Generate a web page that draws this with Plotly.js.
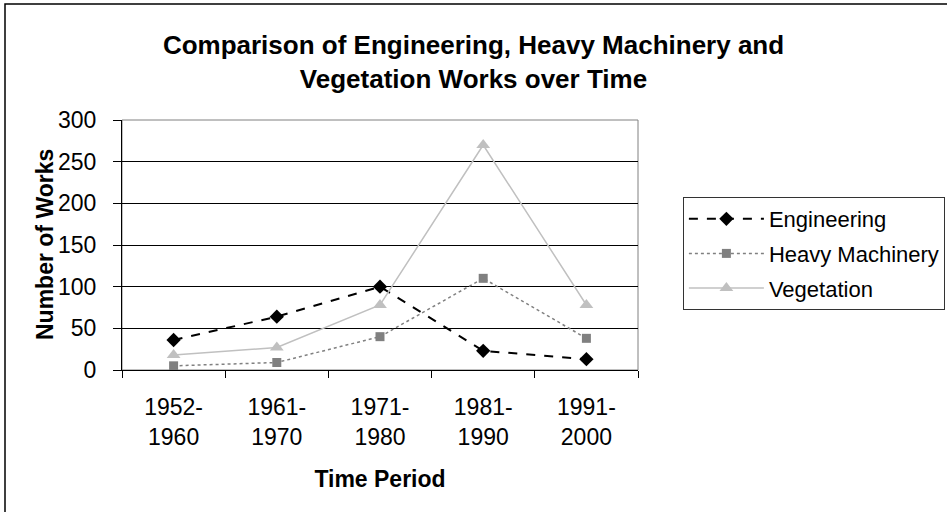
<!DOCTYPE html>
<html>
<head>
<meta charset="utf-8">
<script src="https://cdn.plot.ly/plotly-3.0.1.min.js"></script>
<style>html,body{margin:0;padding:0;background:#fff;}#chart{width:947px;height:512px;}</style>
</head>
<body>
<div id="chart"></div>
<script>
const periods = ["1952-<br>1960", "1961-<br>1970", "1971-<br>1980", "1981-<br>1990", "1991-<br>2000"];
const engineering = [36, 64, 100, 23, 13];
const heavyMachinery = [5, 9, 40, 110, 38];
const vegetation = [18, 27, 78, 270, 78];

const FONT = "Liberation Sans, Arial, sans-serif";

const traces = [
  {x: periods, y: engineering, name: "Engineering", type: "scatter", mode: "lines+markers",
   legendgroup: "a",
   line: {color: "#000000", width: 2, dash: "dash"},
   marker: {symbol: "diamond", size: 11, color: "#000000"}},
  {x: periods, y: heavyMachinery, name: "Heavy Machinery", type: "scatter", mode: "lines+markers",
   legendgroup: "b",
   line: {color: "#808080", width: 1.5, dash: "dot"},
   marker: {symbol: "square", size: 9, color: "#808080"}},
  {x: periods, y: vegetation, name: "Vegetation", type: "scatter", mode: "lines+markers",
   legendgroup: "c",
   line: {color: "#c0c0c0", width: 1.5},
   marker: {symbol: "triangle-up", size: 12, color: "#c0c0c0"}}
];

const layout = {
  width: 947, height: 512,
  margin: {l: 122, r: 309, t: 120, b: 142, autoexpand: false},
  paper_bgcolor: "#ffffff", plot_bgcolor: "#ffffff",
  font: {family: FONT, color: "#000000", size: 22},
  title: {text: "<b>Comparison of Engineering, Heavy Machinery and<br>Vegetation Works over Time</b>",
          font: {family: FONT, size: 26, color: "#000"}, x: 0.5, xanchor: "center",
          yref: "container", y: 0.894, yanchor: "middle"},
  xaxis: {type: "category", tickson: "boundaries", ticks: "outside", ticklen: 7, tickcolor: "#000",
          ticklabelstandoff: 16,
          showline: true, linecolor: "#000", linewidth: 1, showgrid: false, zeroline: false,
          tickfont: {family: FONT, size: 23}, range: [-0.5, 4.5],
          title: {text: "<b>Time Period</b>", font: {family: FONT, size: 23}, standoff: 22}},
  yaxis: {range: [0, 300], dtick: 50, ticks: "outside", ticklen: 8, tickcolor: "#000",
          ticklabelstandoff: 12,
          showline: true, linecolor: "#000", linewidth: 1, showgrid: true, gridcolor: "#000", gridwidth: 1,
          zeroline: false, tickfont: {family: FONT, size: 23}},
  annotations: [
    {text: "<b>Number of Works</b>", xref: "paper", yref: "paper", x: (45 - 122) / 516, y: 0.5,
     xanchor: "center", yanchor: "middle", textangle: -90, showarrow: false,
     font: {family: FONT, size: 23, color: "#000"}}
  ],
  legend: {x: 1.087, xanchor: "left", y: 0.692, yanchor: "top", bordercolor: "#333", borderwidth: 1,
           bgcolor: "#fff", font: {family: FONT, size: 22}, tracegroupgap: 3, traceorder: "grouped",
           itemwidth: 75},
  shapes: [
    {type: "rect", xref: "paper", yref: "paper", x0: 0, x1: 1, y0: 0, y1: 1,
     line: {color: "#808080", width: 1}, layer: "below"},
    {type: "rect", xref: "paper", yref: "paper", x0: (5 - 122) / 516, x1: 2, y0: -1, y1: (370 - 4) / 250,
     line: {color: "#000", width: 1.5}}
  ],
  showlegend: true
};

Plotly.newPlot("chart", traces, layout, {displayModeBar: false, staticPlot: true});
</script>
</body>
</html>
